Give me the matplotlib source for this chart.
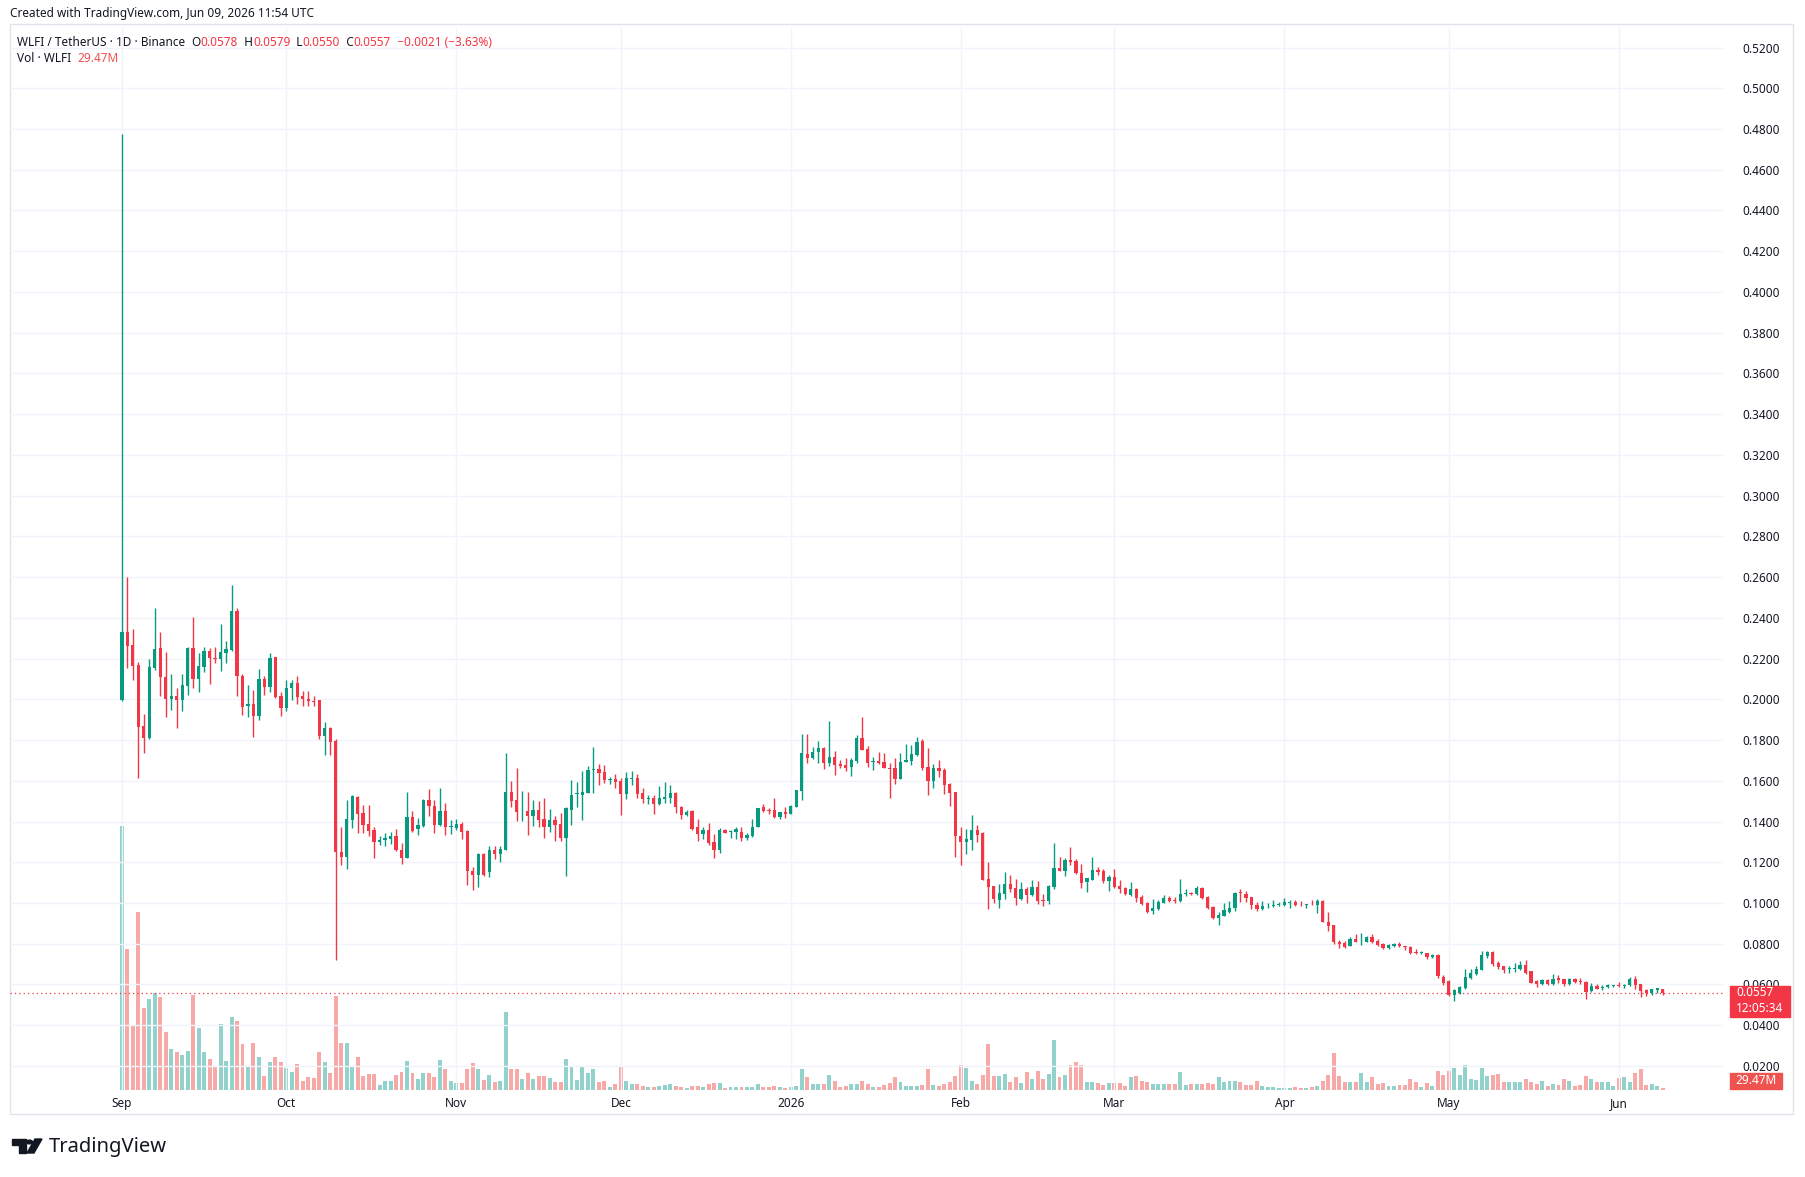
import matplotlib
matplotlib.use('Agg')
import matplotlib.pyplot as plt
import matplotlib.dates as mdates
from matplotlib.patches import Rectangle, Circle, Polygon
from matplotlib.ticker import FormatStrFormatter
import numpy as np
import pandas as pd

plt.rcParams['font.family'] = ['Noto Sans', 'DejaVu Sans']

# daily candles WLFI/USDT, starting 2025-09-01
opens = [
    0.1995, 0.2332, 0.2266, 0.2169, 0.1868, 0.1808, 0.2153, 0.2250, 0.2109, 0.2002,
    0.2018, 0.1995, 0.2067, 0.2250, 0.2099, 0.2161, 0.2239, 0.2205, 0.2197, 0.2229,
    0.2242, 0.2433, 0.2117, 0.1966, 0.1979, 0.1920, 0.2101, 0.2063, 0.2207, 0.2015,
    0.1958, 0.2055, 0.2080, 0.2015, 0.2002, 0.1992, 0.1995, 0.1820, 0.1860, 0.1795,
    0.1250, 0.1226, 0.1410, 0.1519, 0.1442, 0.1389, 0.1359, 0.1299, 0.1307, 0.1312,
    0.1327, 0.1262, 0.1223, 0.1421, 0.1361, 0.1376, 0.1506, 0.1478, 0.1381, 0.1454,
    0.1371, 0.1369, 0.1389, 0.1356, 0.1159, 0.1137, 0.1242, 0.1153, 0.1259, 0.1242,
    0.1262, 0.1546, 0.1506, 0.1450, 0.1454, 0.1429, 0.1458, 0.1413, 0.1372, 0.1408,
    0.1387, 0.1318, 0.1457, 0.1534, 0.1531, 0.1539, 0.1653, 0.1656, 0.1642, 0.1604,
    0.1607, 0.1599, 0.1535, 0.1610, 0.1612, 0.1539, 0.1511, 0.1514, 0.1485, 0.1511,
    0.1514, 0.1539, 0.1473, 0.1433, 0.1452, 0.1372, 0.1338, 0.1359, 0.1299, 0.1261,
    0.1359, 0.1351, 0.1351, 0.1351, 0.1318, 0.1331, 0.1375, 0.1473, 0.1457, 0.1457,
    0.1421, 0.1446, 0.1437, 0.1473, 0.1550, 0.1730, 0.1710, 0.1743, 0.1759, 0.1686,
    0.1718, 0.1681, 0.1678, 0.1669, 0.1699, 0.1808, 0.1754, 0.1694, 0.1697, 0.1694,
    0.1661, 0.1661, 0.1609, 0.1694, 0.1699, 0.1727, 0.1795, 0.1666, 0.1599, 0.1661,
    0.1653, 0.1583, 0.1544, 0.1331, 0.1302, 0.1310, 0.1357, 0.1343, 0.1117, 0.1086,
    0.1017, 0.1045, 0.1094, 0.1073, 0.1020, 0.1069, 0.1040, 0.1078, 0.1017, 0.1009,
    0.1081, 0.1172, 0.1159, 0.1211, 0.1208, 0.1148, 0.1102, 0.1115, 0.1162, 0.1156,
    0.1107, 0.1127, 0.1086, 0.1074, 0.1041, 0.1069, 0.1029, 0.1000, 0.0963, 0.0971,
    0.1001, 0.1025, 0.1017, 0.1009, 0.1043, 0.1047, 0.1043, 0.1074, 0.1029, 0.0980,
    0.0927, 0.0937, 0.0958, 0.0975, 0.1051, 0.1043, 0.1029, 0.0988, 0.0971, 0.0983,
    0.0983, 0.0988, 0.0991, 0.0999, 0.1004, 0.0996, 0.0991, 0.0991, 0.0988, 0.1011,
    0.0906, 0.0890, 0.0811, 0.0803, 0.0790, 0.0824, 0.0816, 0.0811, 0.0831, 0.0815,
    0.0798, 0.0779, 0.0787, 0.0800, 0.0787, 0.0784, 0.0757, 0.0754, 0.0754, 0.0733,
    0.0746, 0.0637, 0.0617, 0.0550, 0.0560, 0.0583, 0.0633, 0.0650, 0.0669, 0.0740,
    0.0759, 0.0705, 0.0691, 0.0678, 0.0676, 0.0674, 0.0694, 0.0664, 0.0616, 0.0604,
    0.0624, 0.0604, 0.0632, 0.0629, 0.0601, 0.0625, 0.0617, 0.0612, 0.0568, 0.0593,
    0.0583, 0.0586, 0.0594, 0.0599, 0.0591, 0.0596, 0.0629, 0.0601, 0.0571, 0.0560,
    0.0571, 0.0578,
]
highs = [
    0.4776, 0.2600, 0.2345, 0.2185, 0.1930, 0.2198, 0.2449, 0.2332, 0.2234, 0.2126,
    0.2058, 0.2126, 0.2259, 0.2402, 0.2226, 0.2255, 0.2250, 0.2255, 0.2372, 0.2286,
    0.2559, 0.2450, 0.2123, 0.2068, 0.2048, 0.2150, 0.2114, 0.2229, 0.2210, 0.2036,
    0.2093, 0.2096, 0.2114, 0.2040, 0.2042, 0.2018, 0.1999, 0.1889, 0.1865, 0.1803,
    0.1372, 0.1506, 0.1530, 0.1524, 0.1481, 0.1481, 0.1372, 0.1328, 0.1343, 0.1351,
    0.1364, 0.1296, 0.1546, 0.1454, 0.1416, 0.1511, 0.1559, 0.1506, 0.1567, 0.1491,
    0.1408, 0.1413, 0.1397, 0.1359, 0.1177, 0.1247, 0.1246, 0.1280, 0.1280, 0.1280,
    0.1735, 0.1600, 0.1665, 0.1551, 0.1546, 0.1506, 0.1502, 0.1514, 0.1462, 0.1429,
    0.1441, 0.1470, 0.1604, 0.1594, 0.1650, 0.1673, 0.1764, 0.1681, 0.1678, 0.1620,
    0.1632, 0.1612, 0.1645, 0.1650, 0.1632, 0.1563, 0.1530, 0.1530, 0.1575, 0.1596,
    0.1580, 0.1544, 0.1477, 0.1457, 0.1457, 0.1413, 0.1371, 0.1395, 0.1338, 0.1367,
    0.1364, 0.1359, 0.1375, 0.1372, 0.1343, 0.1413, 0.1468, 0.1485, 0.1468, 0.1517,
    0.1449, 0.1473, 0.1482, 0.1555, 0.1829, 0.1828, 0.1764, 0.1795, 0.1767, 0.1893,
    0.1746, 0.1702, 0.1710, 0.1710, 0.1824, 0.1911, 0.1771, 0.1718, 0.1740, 0.1735,
    0.1686, 0.1710, 0.1738, 0.1779, 0.1775, 0.1813, 0.1805, 0.1759, 0.1681, 0.1702,
    0.1661, 0.1588, 0.1547, 0.1372, 0.1364, 0.1431, 0.1385, 0.1347, 0.1199, 0.1086,
    0.1094, 0.1154, 0.1138, 0.1118, 0.1105, 0.1078, 0.1113, 0.1110, 0.1045, 0.1089,
    0.1295, 0.1228, 0.1220, 0.1273, 0.1216, 0.1192, 0.1122, 0.1224, 0.1175, 0.1167,
    0.1138, 0.1167, 0.1113, 0.1078, 0.1105, 0.1074, 0.1040, 0.1004, 0.1020, 0.1017,
    0.1040, 0.1033, 0.1029, 0.1118, 0.1069, 0.1056, 0.1086, 0.1078, 0.1033, 0.0983,
    0.0955, 0.0999, 0.1011, 0.1056, 0.1068, 0.1060, 0.1032, 0.1004, 0.1012, 0.0999,
    0.1016, 0.1007, 0.1027, 0.1016, 0.1016, 0.1011, 0.0994, 0.1016, 0.1020, 0.1016,
    0.0958, 0.0893, 0.0820, 0.0815, 0.0831, 0.0847, 0.0855, 0.0836, 0.0847, 0.0824,
    0.0803, 0.0798, 0.0803, 0.0808, 0.0790, 0.0790, 0.0774, 0.0762, 0.0757, 0.0749,
    0.0749, 0.0648, 0.0624, 0.0576, 0.0591, 0.0678, 0.0674, 0.0689, 0.0764, 0.0762,
    0.0762, 0.0713, 0.0691, 0.0689, 0.0705, 0.0715, 0.0722, 0.0666, 0.0624, 0.0629,
    0.0629, 0.0653, 0.0645, 0.0629, 0.0632, 0.0632, 0.0633, 0.0615, 0.0607, 0.0601,
    0.0596, 0.0604, 0.0597, 0.0612, 0.0604, 0.0637, 0.0642, 0.0604, 0.0576, 0.0580,
    0.0583, 0.0579,
]
lows = [
    0.1990, 0.2156, 0.2093, 0.1616, 0.1738, 0.1803, 0.2145, 0.2015, 0.1914, 0.1950,
    0.1860, 0.1942, 0.2023, 0.2055, 0.2036, 0.2132, 0.2075, 0.2177, 0.2137, 0.2180,
    0.2239, 0.2018, 0.1925, 0.1914, 0.1815, 0.1898, 0.2023, 0.2034, 0.2008, 0.1920,
    0.1942, 0.1995, 0.1979, 0.1966, 0.1966, 0.1966, 0.1804, 0.1727, 0.1727, 0.0722,
    0.1189, 0.1166, 0.1368, 0.1343, 0.1343, 0.1327, 0.1221, 0.1286, 0.1280, 0.1291,
    0.1255, 0.1194, 0.1223, 0.1348, 0.1332, 0.1374, 0.1429, 0.1343, 0.1377, 0.1332,
    0.1338, 0.1359, 0.1312, 0.1088, 0.1065, 0.1077, 0.1134, 0.1129, 0.1215, 0.1203,
    0.1259, 0.1470, 0.1405, 0.1405, 0.1332, 0.1377, 0.1372, 0.1320, 0.1348, 0.1306,
    0.1305, 0.1134, 0.1384, 0.1470, 0.1408, 0.1539, 0.1539, 0.1580, 0.1591, 0.1584,
    0.1563, 0.1433, 0.1511, 0.1580, 0.1514, 0.1490, 0.1485, 0.1437, 0.1482, 0.1490,
    0.1490, 0.1444, 0.1413, 0.1429, 0.1359, 0.1305, 0.1315, 0.1286, 0.1220, 0.1245,
    0.1343, 0.1318, 0.1315, 0.1305, 0.1310, 0.1326, 0.1372, 0.1449, 0.1436, 0.1416,
    0.1413, 0.1416, 0.1436, 0.1470, 0.1506, 0.1686, 0.1707, 0.1686, 0.1656, 0.1674,
    0.1629, 0.1661, 0.1648, 0.1624, 0.1686, 0.1751, 0.1669, 0.1653, 0.1682, 0.1661,
    0.1517, 0.1584, 0.1607, 0.1692, 0.1678, 0.1723, 0.1653, 0.1531, 0.1564, 0.1620,
    0.1535, 0.1477, 0.1225, 0.1186, 0.1240, 0.1261, 0.1299, 0.1111, 0.0972, 0.0999,
    0.0976, 0.1020, 0.1056, 0.0991, 0.1017, 0.1001, 0.1033, 0.0996, 0.0984, 0.0993,
    0.1069, 0.1159, 0.1131, 0.1189, 0.1143, 0.1074, 0.1056, 0.1113, 0.1138, 0.1099,
    0.1058, 0.1073, 0.1050, 0.1037, 0.1033, 0.1004, 0.0988, 0.0950, 0.0944, 0.0967,
    0.1001, 0.1007, 0.1001, 0.1007, 0.1033, 0.1037, 0.1041, 0.1020, 0.0971, 0.0923,
    0.0890, 0.0934, 0.0953, 0.0962, 0.1007, 0.1007, 0.0970, 0.0963, 0.0966, 0.0978,
    0.0980, 0.0983, 0.0986, 0.0978, 0.0983, 0.0983, 0.0975, 0.0988, 0.0950, 0.0906,
    0.0864, 0.0800, 0.0779, 0.0779, 0.0790, 0.0808, 0.0792, 0.0808, 0.0803, 0.0790,
    0.0775, 0.0775, 0.0784, 0.0784, 0.0770, 0.0751, 0.0751, 0.0751, 0.0725, 0.0730,
    0.0630, 0.0596, 0.0544, 0.0517, 0.0552, 0.0580, 0.0629, 0.0645, 0.0669, 0.0731,
    0.0689, 0.0678, 0.0656, 0.0656, 0.0661, 0.0669, 0.0653, 0.0607, 0.0588, 0.0599,
    0.0599, 0.0599, 0.0607, 0.0591, 0.0596, 0.0609, 0.0604, 0.0527, 0.0563, 0.0576,
    0.0575, 0.0584, 0.0588, 0.0588, 0.0583, 0.0591, 0.0580, 0.0539, 0.0544, 0.0547,
    0.0560, 0.0550,
]
closes = [
    0.2332, 0.2263, 0.2166, 0.1863, 0.1808, 0.2158, 0.2247, 0.2109, 0.2002, 0.2018,
    0.1995, 0.2072, 0.2254, 0.2099, 0.2164, 0.2239, 0.2202, 0.2200, 0.2231, 0.2245,
    0.2433, 0.2117, 0.1961, 0.1979, 0.1920, 0.2101, 0.2059, 0.2202, 0.2010, 0.1958,
    0.2055, 0.2080, 0.2010, 0.2002, 0.1990, 0.1989, 0.1820, 0.1860, 0.1790, 0.1250,
    0.1226, 0.1413, 0.1527, 0.1437, 0.1385, 0.1356, 0.1299, 0.1311, 0.1320, 0.1327,
    0.1259, 0.1223, 0.1421, 0.1356, 0.1381, 0.1507, 0.1478, 0.1381, 0.1454, 0.1372,
    0.1376, 0.1389, 0.1351, 0.1156, 0.1137, 0.1242, 0.1137, 0.1259, 0.1242, 0.1267,
    0.1546, 0.1502, 0.1449, 0.1454, 0.1429, 0.1457, 0.1410, 0.1372, 0.1410, 0.1381,
    0.1318, 0.1465, 0.1531, 0.1540, 0.1544, 0.1653, 0.1656, 0.1640, 0.1604, 0.1609,
    0.1596, 0.1535, 0.1612, 0.1614, 0.1535, 0.1511, 0.1516, 0.1485, 0.1514, 0.1522,
    0.1539, 0.1473, 0.1433, 0.1449, 0.1364, 0.1338, 0.1359, 0.1294, 0.1261, 0.1359,
    0.1346, 0.1353, 0.1362, 0.1318, 0.1334, 0.1375, 0.1468, 0.1452, 0.1454, 0.1421,
    0.1446, 0.1436, 0.1477, 0.1555, 0.1735, 0.1710, 0.1740, 0.1759, 0.1686, 0.1718,
    0.1678, 0.1673, 0.1661, 0.1702, 0.1808, 0.1751, 0.1686, 0.1697, 0.1689, 0.1664,
    0.1658, 0.1609, 0.1694, 0.1702, 0.1730, 0.1789, 0.1661, 0.1599, 0.1661, 0.1648,
    0.1580, 0.1542, 0.1331, 0.1299, 0.1313, 0.1359, 0.1335, 0.1114, 0.1078, 0.1020,
    0.1050, 0.1094, 0.1069, 0.1025, 0.1069, 0.1041, 0.1078, 0.1012, 0.1009, 0.1086,
    0.1171, 0.1159, 0.1213, 0.1200, 0.1146, 0.1097, 0.1122, 0.1162, 0.1151, 0.1107,
    0.1127, 0.1081, 0.1069, 0.1045, 0.1069, 0.1025, 0.0996, 0.0958, 0.0975, 0.1004,
    0.1025, 0.1012, 0.1012, 0.1045, 0.1047, 0.1043, 0.1074, 0.1023, 0.0976, 0.0926,
    0.0939, 0.0966, 0.0978, 0.1048, 0.1048, 0.1024, 0.0988, 0.0970, 0.0983, 0.0986,
    0.0991, 0.0996, 0.1004, 0.1002, 0.0991, 0.0993, 0.0994, 0.0988, 0.1011, 0.0909,
    0.0885, 0.0811, 0.0798, 0.0784, 0.0824, 0.0811, 0.0819, 0.0831, 0.0808, 0.0795,
    0.0779, 0.0792, 0.0800, 0.0787, 0.0784, 0.0754, 0.0754, 0.0757, 0.0733, 0.0746,
    0.0640, 0.0609, 0.0547, 0.0571, 0.0588, 0.0637, 0.0656, 0.0678, 0.0743, 0.0759,
    0.0699, 0.0686, 0.0669, 0.0681, 0.0679, 0.0694, 0.0658, 0.0609, 0.0604, 0.0624,
    0.0604, 0.0629, 0.0620, 0.0601, 0.0625, 0.0612, 0.0612, 0.0563, 0.0593, 0.0580,
    0.0586, 0.0596, 0.0597, 0.0593, 0.0599, 0.0629, 0.0599, 0.0566, 0.0560, 0.0576,
    0.0583, 0.0557,
]
# volume pane bar heights (relative units)
volumes = [
    793, 423, 195, 535, 245, 273, 292, 278, 175, 123,
    115, 105, 118, 285, 187, 115, 93, 73, 198, 88,
    220, 207, 137, 70, 140, 100, 42, 83, 100, 85,
    65, 53, 78, 28, 38, 35, 113, 85, 52, 283,
    140, 140, 73, 100, 43, 47, 48, 15, 27, 27,
    45, 55, 88, 50, 32, 52, 52, 40, 90, 63,
    27, 22, 22, 62, 82, 62, 30, 45, 25, 27,
    235, 62, 62, 33, 50, 33, 42, 42, 35, 25,
    25, 93, 73, 30, 73, 52, 63, 25, 28, 10,
    17, 73, 28, 17, 17, 13, 8, 10, 13, 15,
    18, 13, 8, 7, 13, 13, 8, 17, 20, 22,
    7, 9, 10, 8, 8, 10, 18, 10, 8, 13,
    8, 7, 8, 13, 62, 40, 17, 17, 17, 45,
    27, 10, 13, 17, 17, 28, 17, 10, 10, 15,
    20, 40, 23, 13, 13, 13, 15, 62, 15, 13,
    18, 23, 43, 75, 67, 28, 18, 45, 137, 42,
    42, 48, 25, 40, 22, 55, 32, 57, 33, 48,
    150, 38, 45, 75, 85, 75, 23, 25, 22, 15,
    20, 22, 22, 12, 40, 42, 27, 25, 18, 18,
    18, 17, 17, 55, 15, 17, 17, 17, 20, 17,
    38, 23, 27, 28, 25, 15, 15, 28, 13, 10,
    8, 7, 7, 7, 10, 7, 5, 10, 13, 27,
    45, 112, 42, 25, 23, 23, 52, 23, 40, 18,
    20, 12, 12, 15, 15, 32, 23, 10, 20, 13,
    57, 45, 58, 67, 45, 75, 33, 30, 67, 43,
    45, 48, 25, 23, 23, 25, 32, 23, 18, 28,
    13, 17, 15, 32, 28, 12, 15, 42, 33, 25,
    25, 23, 13, 35, 40, 25, 52, 63, 15, 17,
    13, 7,
]

start_date = '2025-09-01'
month_starts = ['2025-09-01', '2025-10-01', '2025-11-01', '2025-12-01', '2026-01-01',
                '2026-02-01', '2026-03-01', '2026-04-01', '2026-05-01', '2026-06-01']
month_labels = ['Sep', 'Oct', 'Nov', 'Dec', '2026', 'Feb', 'Mar', 'Apr', 'May', 'Jun']
price_ticks = np.arange(0.02, 0.5201, 0.02)

GREEN = '#089981'
RED = '#f23645'
VGREEN = '#92d2cc'
VRED = '#f7a9a7'
TXT = '#131722'

W, H = 1805, 1177
def fx(px):
    return px / W
def fy(py):
    return 1 - py / H

fig = plt.figure(figsize=(W / 100, H / 100), dpi=100)
ax = fig.add_axes([fx(10), fy(1090), fx(1723) - fx(10), fy(28) - fy(1090)])
ax2 = ax.twinx()

dates = pd.date_range(start_date, periods=len(closes), freq='D')
x = mdates.date2num(dates)
o = np.array(opens); h = np.array(highs); l = np.array(lows); c = np.array(closes)
up = c >= o
col = np.where(up, GREEN, RED)
vcol = np.where(up, VGREEN, VRED)

# volume underneath
ax2.bar(x, volumes, width=0.72, color=vcol, linewidth=0)
ax2.set_ylim(0, 3190)
ax2.set_axis_off()
ax.set_zorder(ax2.get_zorder() + 1)
ax.patch.set_visible(False)

# candles
ax.vlines(x, l, h, colors=col, linewidth=1.0, zorder=3)
body_lo = np.minimum(o, c)
body_h = np.maximum(np.abs(c - o), 0.0004)
ax.bar(x, body_h, bottom=body_lo, width=0.6, color=col, linewidth=0, zorder=4)

ax.axhline(closes[-1], color=RED, linestyle=(0, (1, 2.5)), linewidth=0.9, zorder=2)

ax.set_xlim(x[0] - 20.4, x[0] + 292)
ax.set_ylim(0.0082, 0.5296)
ax2.set_xlim(ax.get_xlim())

ax.yaxis.tick_right()
ax.set_yticks(price_ticks)
ax.yaxis.set_major_formatter(FormatStrFormatter('%.4f'))
ax.tick_params(axis='y', length=0, pad=14, labelsize=8.5, labelcolor=TXT)
ax.set_xticks(mdates.date2num(pd.to_datetime(month_starts)))
ax.set_xticklabels(month_labels)
ax.tick_params(axis='x', length=0, pad=5, labelsize=8.5, labelcolor=TXT)
for lab in ax.get_xticklabels():
    if lab.get_text() == '2026':
        lab.set_fontweight('bold')
ax.grid(True, color='#f0f3fa', linewidth=1)
ax.set_axisbelow(True)
for s in ax.spines.values():
    s.set_visible(False)

# outer frame
fig.add_artist(Rectangle((fx(10), fy(1114)), fx(1793) - fx(10), fy(24) - fy(1114),
                         transform=fig.transFigure, fill=False, edgecolor='#e0e3eb', lw=1))

# price tags on the scale (they cover the 0.0600 label, as in TradingView)
fig.add_artist(Rectangle((fx(1730), fy(1017)), fx(1790) - fx(1730), fy(986) - fy(1017),
                         transform=fig.transFigure, color=RED, zorder=5))
fig.text(fx(1736), fy(993), '%.4f' % closes[-1], color='white', fontsize=8.5,
         fontweight='bold', va='center', zorder=6)
fig.text(fx(1736), fy(1009), '12:05:34', color='white', fontsize=8.5, va='center', zorder=6)
fig.add_artist(Rectangle((fx(1730), fy(1089)), fx(1782) - fx(1730), fy(1073) - fy(1089),
                         transform=fig.transFigure, color='#ef5350', zorder=5))
fig.text(fx(1735), fy(1081), '29.47M', color='white', fontsize=8.5, fontweight='bold',
         va='center', zorder=6)

# header
fig.text(fx(10), fy(14), 'Created with TradingView.com, Jun 09, 2026 11:54 UTC',
         color=TXT, fontsize=8.5, va='center')

renderer = fig.canvas.get_renderer()
def chain(x0, y, pieces):
    xp = x0
    for txt, color in pieces:
        t = fig.text(fx(xp), fy(y), txt, color=color, fontsize=8.5, va='center')
        bb = t.get_window_extent(renderer=renderer)
        xp += bb.width

chain(17, 42, [('WLFI / TetherUS · 1D · Binance  ', TXT),
               ('O', TXT), ('%.4f' % opens[-1], RED),
               ('  H', TXT), ('%.4f' % highs[-1], RED),
               ('  L', TXT), ('%.4f' % lows[-1], RED),
               ('  C', TXT), ('%.4f' % closes[-1], RED),
               ('  −0.0021 (−3.63%)', RED)])
chain(17, 58, [('Vol · WLFI  ', TXT), ('29.47M', '#ef5350')])

# TradingView logo
fig.add_artist(Polygon([(fx(12), fy(1139)), (fx(26), fy(1139)), (fx(26), fy(1153)),
                        (fx(19), fy(1153)), (fx(19), fy(1145)), (fx(12), fy(1145))],
                       closed=True, transform=fig.transFigure, color=TXT))
fig.add_artist(Circle((fx(29.5), fy(1142)), 2.9 / W, transform=fig.transFigure, color=TXT))
fig.add_artist(Polygon([(fx(35), fy(1139)), (fx(42), fy(1139)), (fx(34), fy(1153)),
                        (fx(27), fy(1153))],
                       closed=True, transform=fig.transFigure, color=TXT))
fig.text(fx(49), fy(1147), 'TradingView', color=TXT, fontsize=14.5, fontweight='bold',
         va='center')

fig.savefig('out.png', dpi=100, facecolor='white')
